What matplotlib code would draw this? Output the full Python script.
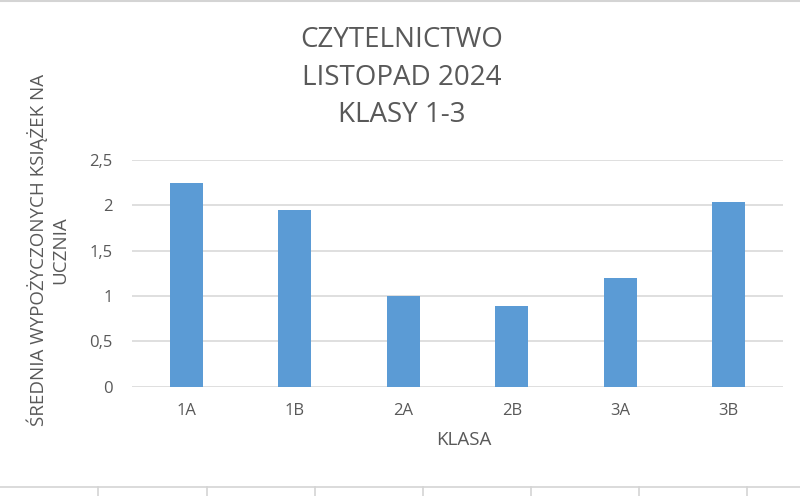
import matplotlib
matplotlib.use("Agg")
import matplotlib.pyplot as plt
from matplotlib.lines import Line2D

categories = ["1A", "1B", "2A", "2B", "3A", "3B"]
values = [2.25, 1.95, 1.0, 0.89, 1.2, 2.04]
yticks = [0, 0.5, 1, 1.5, 2, 2.5]
ytick_labels = ["0", "0,5", "1", "1,5", "2", "2,5"]
title_lines = ["CZYTELNICTWO", "LISTOPAD 2024", "KLASY 1-3"]
xlabel = "KLASA"
ylabel = "ŚREDNIA WYPOŻYCZONYCH KSIĄŻEK NA\nUCZNIA"

W, H = 800, 496
plt.rcParams['font.family'] = ['Open Sans', 'DejaVu Sans']
txt = "#595959"
grid = "#d9d9d9"
bar_c = "#5b9bd5"

fig = plt.figure(figsize=(W / 100, H / 100), dpi=100)
fig.patch.set_facecolor("white")

x0, x1 = 132, 783
ytop, ybot = 160, 386.7
ax = fig.add_axes([x0 / W, 1 - ybot / H, (x1 - x0) / W, (ybot - ytop) / H])
xs = list(range(len(categories)))
ax.bar(xs, values, width=0.30, color=bar_c, zorder=3)
ax.set_xlim(-0.5, len(categories) - 0.5)
ax.set_ylim(0, 2.5)
ax.set_yticks(yticks)
ax.set_yticklabels(ytick_labels)
ax.set_xticks(xs)
ax.set_xticklabels(categories)
ax.yaxis.grid(True, color=grid, linewidth=1.2, zorder=0)
ax.set_axisbelow(True)
for s in ax.spines.values():
    s.set_visible(False)
ax.tick_params(axis="both", length=0, colors=txt, labelsize=12)
ax.tick_params(axis="y", pad=14)
ax.tick_params(axis="x", pad=12)

# titles
for line, yc in zip(title_lines, [40, 78, 115]):
    fig.text(402 / W, 1 - yc / H, line, ha="center", va="center",
             fontsize=20, color=txt)

fig.text(464 / W, 1 - 440 / H, xlabel, ha="center", va="center",
         fontsize=13.5, color=txt)
fig.text(48 / W, 1 - 250 / H, ylabel, ha="center", va="center",
         rotation=90, fontsize=13.5, color=txt, multialignment="center",
         linespacing=1.25)

# spreadsheet cell borders around the chart
cell = "#d4d4d4"
fig.add_artist(Line2D([0, 1], [1 - 0.8 / H, 1 - 0.8 / H], color=cell, lw=1.5))
fig.add_artist(Line2D([0, 1], [1 - 487 / H, 1 - 487 / H], color=cell, lw=1.2))
for xv in [98, 207, 315, 423, 531, 639, 747]:
    fig.add_artist(Line2D([xv / W, xv / W], [0, 1 - 487 / H], color=cell, lw=1.2))

fig.savefig("out.png", dpi=100, facecolor="white")
